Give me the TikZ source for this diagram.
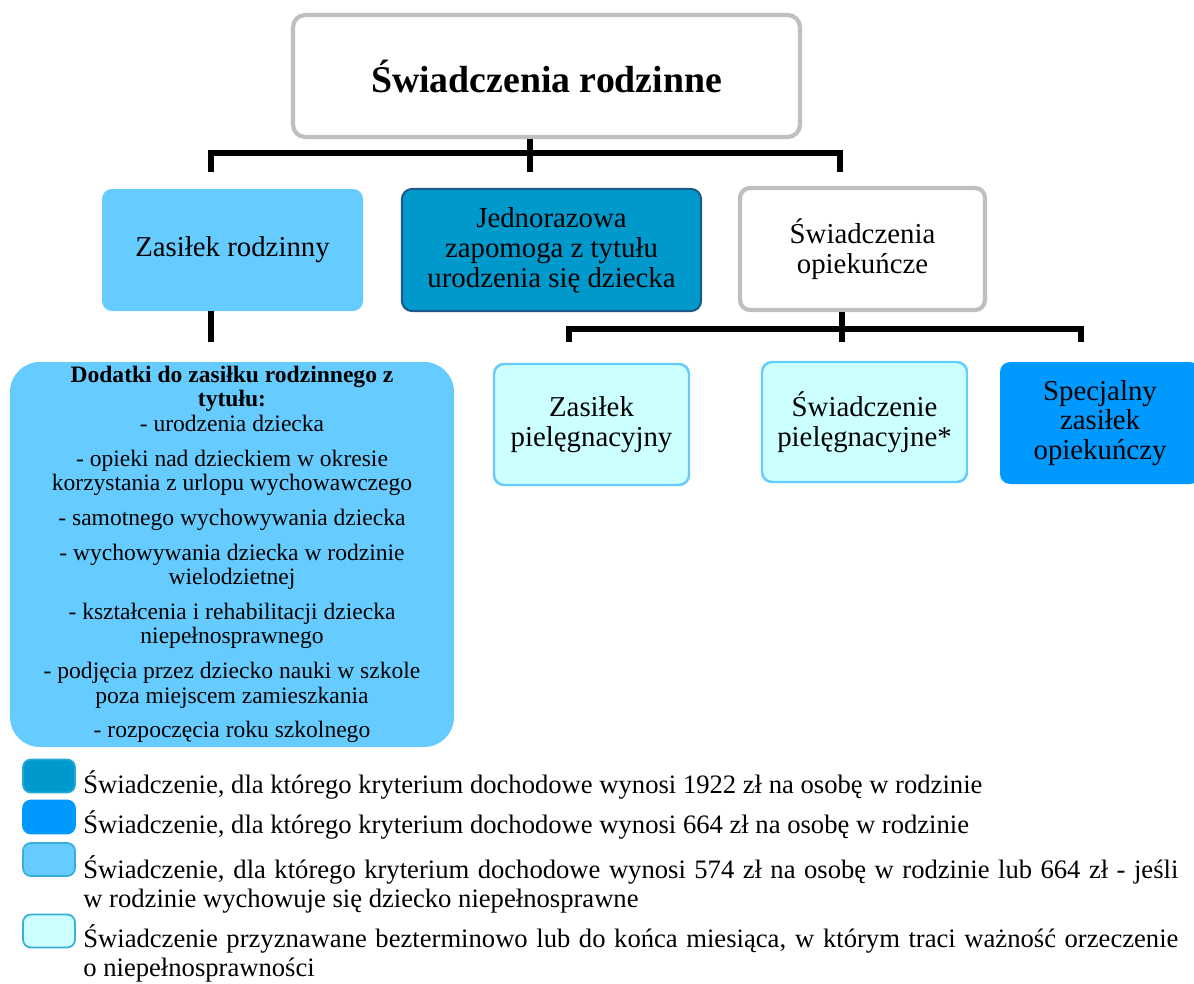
\documentclass[tikz,border=0pt]{standalone}
\usepackage{fontspec}
\setmainfont{Liberation Serif}
\usepackage{tikz}
\usepackage{xcolor}
\tikzstyle{conn} = [line width=3pt, line join=miter]
\tikzstyle{box} = [rectangle, rounded corners=5.7pt, align=center, inner sep=0pt, font=\fontsize{16.4}{17}\selectfont]
\tikzstyle{swatch} = [rectangle, rounded corners=4.5pt, minimum width=1.04cm, minimum height=0.66cm, line width=1pt]
\tikzstyle{legend} = [anchor=base west, inner sep=0pt, align=left, font=\fontsize{15.15}{16.4}\selectfont]
\definecolor{grayframe}{HTML}{BFBFBF}
\definecolor{lightsky}{HTML}{66CCFF}
\definecolor{deepsea}{HTML}{0099CC}
\definecolor{navyedge}{HTML}{1D5A8C}
\definecolor{paleaqua}{HTML}{CCFFFF}
\definecolor{brightblue}{HTML}{0099FF}
\definecolor{skyedge}{HTML}{38AEDD}

\begin{document}
\begin{tikzpicture}
      \useasboundingbox (0,0) rectangle (23.88,-19.66);
      \clip (0,0) rectangle (23.88,-19.66);
      \node (title) [box, draw=grayframe, line width=2.4pt, rounded corners=7pt, minimum width=10.14cm, minimum height=2.44cm, font=\fontsize{21.5}{26}\selectfont\bfseries] at (10.93,-1.52) {Świadczenia rodzinne};
      \node (zr) [box, fill=lightsky, minimum width=5.22cm, minimum height=2.44cm] at (4.65,-5.0) {Zasiłek rodzinny};
      \node (jz) [box, fill=deepsea, draw=navyedge, line width=1.2pt, minimum width=5.98cm, minimum height=2.44cm] at (11.03,-5.0) {Jednorazowa\\zapomoga z tytułu\\urodzenia się dziecka};
      \node (so) [box, draw=grayframe, line width=2.4pt, minimum width=4.9cm, minimum height=2.44cm] at (17.25,-4.98) {Świadczenia\\opiekuńcze};
      \node (zp) [box, fill=paleaqua, draw=lightsky, line width=1.4pt, minimum width=3.9cm, minimum height=2.42cm] at (11.83,-8.49) {Zasiłek\\pielęgnacyjny};
      \node (sp) [box, fill=paleaqua, draw=lightsky, line width=1.4pt, minimum width=4.1cm, minimum height=2.4cm] at (17.29,-8.44) {Świadczenie\\pielęgnacyjne*};
      \node (sz) [box, fill=brightblue, minimum width=4.0cm, minimum height=2.44cm] at (22.0,-8.46) {Specjalny\\zasiłek\\opiekuńczy};
      \node (dod) [box, fill=lightsky, rounded corners=17pt, minimum width=8.88cm, minimum height=7.7cm, font=\fontsize{13.4}{13.9}\selectfont] at (4.64,-11.09) {\textbf{Dodatki do zasiłku rodzinnego z}\\\textbf{tytułu:}\\- urodzenia dziecka\\[5.9pt]- opieki nad dzieckiem w okresie\\korzystania z urlopu wychowawczego\\[5.9pt]- samotnego wychowywania dziecka\\[5.9pt]- wychowywania dziecka w rodzinie\\wielodzietnej\\[5.9pt]- kształcenia i rehabilitacji dziecka\\niepełnosprawnego\\[5.9pt]- podjęcia przez dziecko nauki w szkole\\poza miejscem zamieszkania\\[5.9pt]- rozpoczęcia roku szkolnego};
      \coordinate (j1) at (10.6,-3.06);
      \coordinate (d1) at (4.22,-3.44);
      \coordinate (d2) at (10.6,-3.44);
      \coordinate (d3) at (16.8,-3.44);
      \coordinate (d4) at (4.22,-6.84);
      \coordinate (j2) at (16.84,-6.58);
      \coordinate (e1) at (11.38,-6.84);
      \coordinate (e2) at (16.84,-6.84);
      \coordinate (e3) at (21.62,-6.84);
      \draw [conn] (d1) |- (j1) -| (d3);
      \draw [conn] (title.south -| j1) -- (d2);
      \draw [conn] (zr.south -| d4) -- (d4);
      \draw [conn] (e1) |- (j2) -| (e3);
      \draw [conn] (so.south -| j2) -- (e2);
      \node (sw1) [swatch, fill=deepsea, draw=deepsea!85!white] at (0.98,-15.52) {};
      \node (sw2) [swatch, fill=brightblue, draw=brightblue] at (0.98,-16.34) {};
      \node (sw3) [swatch, fill=lightsky, draw=skyedge] at (0.98,-17.19) {};
      \node (sw4) [swatch, fill=paleaqua, draw=skyedge] at (0.98,-18.62) {};
      \node (l1) [legend] at (1.66,-15.86) {Świadczenie, dla którego kryterium dochodowe wynosi 1922 zł na osobę w rodzinie};
      \node (l2) [legend] at (1.66,-16.66) {Świadczenie, dla którego kryterium dochodowe wynosi 664 zł na osobę w rodzinie};
      \node (l3) [legend] at (1.66,-18.14) {\makebox[21.9cm][s]{Świadczenie, dla którego kryterium dochodowe wynosi 574 zł na osobę w rodzinie lub 664 zł - jeśli}\\w rodzinie wychowuje się dziecko niepełnosprawne};
      \node (l4) [legend] at (1.66,-19.52) {\makebox[21.9cm][s]{Świadczenie przyznawane bezterminowo lub do końca miesiąca, w którym traci ważność orzeczenie}\\o niepełnosprawności};
\end{tikzpicture}
\end{document}
